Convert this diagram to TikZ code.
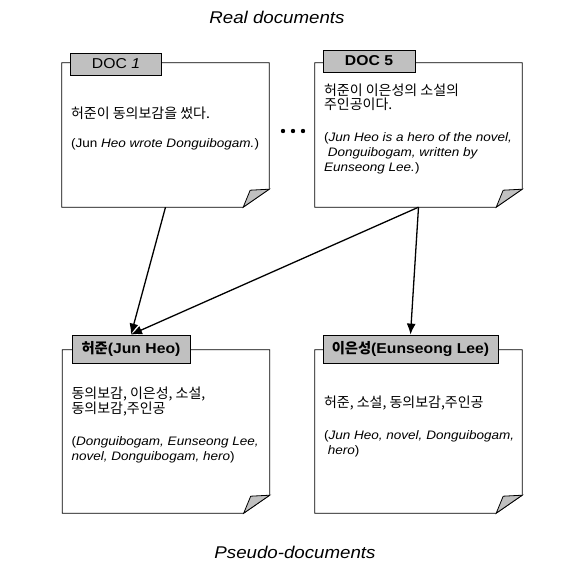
\documentclass[tikz,border=0pt]{standalone}
\usepackage{fontspec}
\setmainfont{Liberation Sans}[FakeStretch=1.1]
\newfontfamily\kor{Noto Sans CJK KR}
\usetikzlibrary{positioning,arrows.meta}
\definecolor{tabgray}{RGB}{192,192,192}
\tikzset{doc body/.style={minimum width=207pt,inner sep=0pt},
	doc tab/.style={draw,fill=tabgray,line width=0.8pt,inner sep=0pt,font=\fontsize{14.3}{15}\selectfont\bfseries},
	kor text/.style={inner sep=0pt,align=left,font=\kor\fontsize{14}{13.5}\selectfont},
	eng text/.style={inner sep=0pt,align=left,font=\fontsize{12.3}{15}\selectfont},
	title/.style={font=\fontsize{17}{18}\selectfont\itshape},
	link/.style={line width=1.3pt,-{Latex[length=11pt,width=9pt]}},
}
% outline of a sheet with its folded corner
\newcommand{\docsheet}[1]{%
	\draw[line width=0.8pt,fill=white] (#1.north west) -- (#1.north east) -- ([yshift=18pt]#1.south east)
	-- ([xshift=-26pt]#1.south east) -- (#1.south west) -- cycle;
	\draw[line width=0.8pt,fill=tabgray] ([yshift=18pt]#1.south east) -- ([xshift=-19pt,yshift=17pt]#1.south east)
	.. controls ([xshift=-22pt,yshift=9pt]#1.south east) .. ([xshift=-26pt]#1.south east) -- cycle;
}

\begin{document}
\begin{tikzpicture}[x=1pt,y=-1pt]
	\useasboundingbox (0,0) rectangle (571,567);
	
	%% titles
	\node[title] (real) at (277,17) {Real documents};
	\node[title] (pseudo) at (295,552) {Pseudo-documents};
	
	%% sheets
	\node[doc body,minimum height=144pt] (d1) at (165.5,135) {};
	\node[doc body,minimum height=144pt] (d5) at (418.5,135) {};
	\node[doc body,minimum height=163pt] (jh) at (166,431.5) {};
	\node[doc body,minimum height=163pt] (el) at (418.5,431.5) {};
	\docsheet{d1}
	\docsheet{d5}
	\docsheet{jh}
	\docsheet{el}
	
	%% tabs
	\node[doc tab,minimum width=91pt,minimum height=22pt] (t1) at (116,64) {\mdseries DOC \itshape 1};
	\node[doc tab,minimum width=92pt,minimum height=22pt] (t5) at (369,61) {DOC 5};
	\node[doc tab,minimum width=118pt,minimum height=28pt] (tj) at (131,349) {{\kor 허준}(Jun Heo)};
	\node[doc tab,minimum width=175pt,minimum height=28pt] (te) at (410.5,349) {{\kor 이은성}(Eunseong Lee)};
	
	%% contents
	\node[kor text,below right=44pt and 9pt of d1.north west] (k1) {허준이 동의보감을 썼다.};
	\node[eng text,below right=76pt and 9pt of d1.north west] (e1) {(Jun \textit{Heo wrote Donguibogam.})};
	\node[kor text,below right=21pt and 9pt of d5.north west] (k5) {허준이 이은성의 소설의\\주인공이다.};
	\node[eng text,below right=70pt and 9pt of d5.north west] (e5) {(\textit{Jun Heo is a hero of the novel,}\\
		\textit{\ Donguibogam, written by}\\\textit{Eunseong Lee.})};
	\node[kor text,below right=37pt and 9pt of jh.north west] (kj) {동의보감, 이은성, 소설,\\동의보감,주인공};
	\node[eng text,below right=87pt and 9pt of jh.north west] (ej) {(\textit{Donguibogam, Eunseong Lee,}\\
		\textit{novel, Donguibogam, hero})};
	\node[kor text,below right=46pt and 9pt of el.north west] (ke) {허준, 소설, 동의보감,주인공};
	\node[eng text,below right=81pt and 9pt of el.north west] (ee) {(\textit{Jun Heo, novel, Donguibogam,}\\
		\textit{\ hero})};
	
	%% more documents
	\foreach \x in {283,293,303}
	\fill (\x,131) circle (2.2pt);
	
	\draw[link] (d1.south) -- (tj.north);
	\draw[link] (d5.south) -- (tj.north);
	\draw[link] (d5.south) -- (te.north);
\end{tikzpicture}
\end{document}
